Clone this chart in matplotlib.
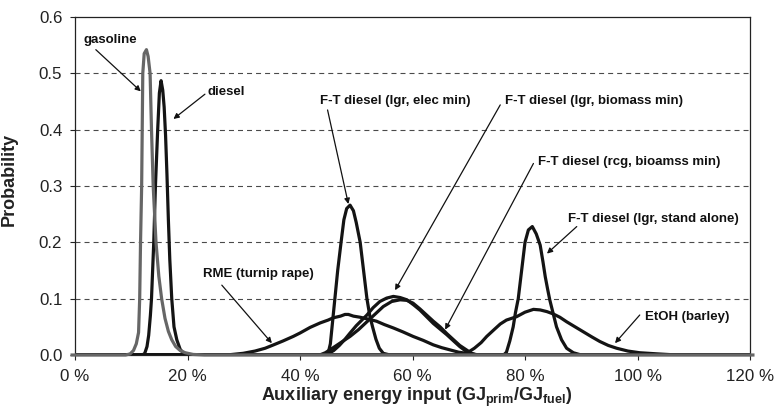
import matplotlib
matplotlib.use("Agg")
import matplotlib.pyplot as plt

plt.rcParams["font.family"] = ["Liberation Sans", "DejaVu Sans"]
plt.rcParams["mathtext.fontset"] = "custom"
plt.rcParams["mathtext.rm"] = "Liberation Sans:bold"
plt.rcParams["mathtext.bf"] = "Liberation Sans:bold"
plt.rcParams["lines.scale_dashes"] = False

# ---- distributions: auxiliary energy input (%) vs probability ----
gasoline_x = [-0.8, 9.0, 9.8, 10.4, 10.9, 11.3, 11.5, 11.65, 11.85, 11.95, 12.05, 12.3, 12.7,
              13.0, 13.35, 13.6, 13.9, 14.4, 14.9, 15.4, 16.0, 16.6, 17.2, 17.9, 18.7, 19.6,
              21.0, 23.0, 120.8]
gasoline_y = [0, 0, 0.002, 0.008, 0.02, 0.04, 0.10, 0.20, 0.30, 0.40, 0.50, 0.535, 0.542,
              0.53, 0.50, 0.40, 0.30, 0.20, 0.14, 0.10, 0.065, 0.042, 0.027, 0.015, 0.008,
              0.004, 0.001, 0, 0]

diesel_x = [0, 12.0, 12.4, 12.8, 13.1, 13.4, 13.6, 13.8, 14.0, 14.3, 14.7, 15.0, 15.3,
            15.6, 15.85, 16.1, 16.35, 16.6, 16.85, 17.2, 17.6, 18.1, 18.7, 19.3, 20.5, 120]
diesel_y = [0, 0, 0.003, 0.015, 0.035, 0.07, 0.10, 0.15, 0.20, 0.30, 0.40, 0.465, 0.487,
            0.47, 0.44, 0.39, 0.32, 0.24, 0.17, 0.10, 0.05, 0.027, 0.01, 0.003, 0, 0]

ft_elec_x = [0, 44.5, 45.0, 45.4, 45.7, 46.2, 46.7, 47.3, 47.8, 48.3, 48.9, 49.5, 50.0,
             50.7, 51.3, 51.9, 52.4, 52.9, 53.5, 54.1, 54.8, 56.0, 120]
ft_elec_y = [0, 0, 0.003, 0.02, 0.05, 0.10, 0.15, 0.20, 0.24, 0.26, 0.266, 0.256, 0.235,
             0.20, 0.15, 0.10, 0.07, 0.05, 0.028, 0.012, 0.003, 0, 0]

ft_lgr_bio_x = [0, 44.5, 45.0, 46.0, 47.0, 48.0, 48.9, 50.0, 51.0, 51.9, 53.0, 54.2, 55.4,
                56.6, 57.8, 59.0, 60.2, 61.3, 62.5, 63.7, 64.9, 66.1, 67.3, 68.4, 69.6,
                70.8, 72.0, 120]
ft_lgr_bio_y = [0, 0, 0.002, 0.008, 0.017, 0.028, 0.039, 0.052, 0.062, 0.071, 0.084, 0.095,
                0.101, 0.104, 0.102, 0.098, 0.089, 0.080, 0.068, 0.056, 0.046, 0.036, 0.025,
                0.015, 0.006, 0.001, 0, 0]

ft_rcg_bio_x = [0, 43.5, 44.5, 45.9, 47.4, 48.9, 50.4, 51.9, 53.4, 54.8, 56.3, 57.8, 59.0,
                60.1, 61.3, 62.5, 63.7, 64.9, 66.1, 67.3, 68.4, 69.6, 70.5, 71.4, 120]
ft_rcg_bio_y = [0, 0, 0.004, 0.013, 0.023, 0.033, 0.045, 0.059, 0.073, 0.086, 0.095, 0.098,
                0.097, 0.092, 0.082, 0.071, 0.060, 0.050, 0.038, 0.027, 0.017, 0.009, 0.003,
                0, 0]

ft_stand_x = [0, 76.2, 76.7, 77.3, 77.9, 78.3, 78.8, 79.4, 80.0, 80.6, 81.3, 82.0, 82.7,
              83.2, 83.6, 84.0, 84.4, 85.0, 85.6, 86.5, 87.4, 88.6, 90.0, 120]
ft_stand_y = [0, 0, 0.005, 0.025, 0.05, 0.075, 0.10, 0.15, 0.20, 0.222, 0.228, 0.215, 0.195,
              0.165, 0.139, 0.118, 0.098, 0.074, 0.05, 0.027, 0.012, 0.004, 0, 0]

rme_x = [0, 27.0, 29.9, 32.0, 33.8, 35.3, 37.0, 38.8, 40.0, 41.8, 43.6, 45.0, 45.9, 47.2,
         48.0, 48.6, 49.5, 50.7, 52.0, 53.6, 55.0, 56.6, 58.3, 60.1, 61.9, 63.7, 65.2,
         66.7, 68.2, 69.6, 72.0, 120]
rme_y = [0, 0, 0.003, 0.007, 0.012, 0.018, 0.025, 0.033, 0.039, 0.049, 0.057, 0.062, 0.066,
         0.069, 0.072, 0.072, 0.069, 0.067, 0.064, 0.060, 0.054, 0.048, 0.041, 0.033, 0.026,
         0.018, 0.013, 0.009, 0.005, 0.003, 0, 0]

etoh_x = [0, 68.5, 69.6, 71.0, 72.2, 73.2, 74.5, 75.6, 76.7, 78.5, 80.0, 81.5, 82.7, 83.9,
          85.0, 86.2, 87.4, 88.9, 90.4, 91.9, 93.3, 94.8, 96.3, 98.3, 100.4, 103.5, 107.0,
          120]
etoh_y = [0, 0, 0.003, 0.012, 0.022, 0.033, 0.045, 0.055, 0.062, 0.068, 0.076, 0.081, 0.080,
          0.077, 0.073, 0.067, 0.059, 0.050, 0.041, 0.032, 0.024, 0.017, 0.012, 0.007, 0.004,
          0.002, 0, 0]

x_ticks = [0, 20, 40, 60, 80, 100, 120]
x_tick_labels = ["0 %", "20 %", "40 %", "60 %", "80 %", "100 %", "120 %"]
y_ticks = [0.0, 0.1, 0.2, 0.3, 0.4, 0.5, 0.6]
y_tick_labels = ["0.0", "0.1", "0.2", "0.3", "0.4", "0.5", "0.6"]

# label text, text centre, arrow start, arrow tip
labels = [
    ("gasoline", (6.2, 0.559), (3.7, 0.542), (11.7, 0.468)),
    ("diesel", (26.9, 0.466), (23.1, 0.463), (17.5, 0.419)),
    ("F-T diesel (lgr, elec min)", (57.0, 0.451), (44.9, 0.435), (48.6, 0.268)),
    ("F-T diesel (lgr, biomass min)", (92.2, 0.451), (75.6, 0.444), (56.9, 0.115)),
    ("F-T diesel (rcg, bioamss min)", (98.5, 0.343), (81.5, 0.340), (65.8, 0.045)),
    ("F-T diesel (lgr, stand alone)", (102.9, 0.242), (89.2, 0.228), (83.9, 0.180)),
    ("EtOH (barley)", (108.9, 0.068), (100.4, 0.071), (96.0, 0.021)),
    ("RME (turnip rape)", (32.6, 0.144), (26.1, 0.124), (35.0, 0.021)),
]

fig = plt.figure(figsize=(7.76, 4.12), dpi=100)
ax = fig.add_axes([75 / 776, 1 - 355 / 412, 675 / 776, 338 / 412])

ax.set_xlim(0, 120)
ax.set_ylim(0, 0.6)

for yv in y_ticks[1:-1]:
    ax.axhline(yv, color="#4a4a4a", lw=0.8, linestyle=(0, (3.6, 2.9)), zorder=1)

black = "#141414"
lw = 2.3
for xs, ys in [(rme_x, rme_y), (etoh_x, etoh_y), (ft_lgr_bio_x, ft_lgr_bio_y),
               (ft_rcg_bio_x, ft_rcg_bio_y), (ft_stand_x, ft_stand_y),
               (ft_elec_x, ft_elec_y), (diesel_x, diesel_y)]:
    ax.plot(xs, ys, color=black, lw=lw, solid_joinstyle="round",
            solid_capstyle="butt", zorder=3)
ax.plot(gasoline_x, gasoline_y, color="#666666", lw=lw, solid_joinstyle="round",
        solid_capstyle="butt", zorder=4, clip_on=False)

for text, tpos, start, tip in labels:
    ax.text(tpos[0], tpos[1], text, ha="center", va="center", fontsize=9.5,
            fontweight="bold", color="#111111", zorder=6)
    ax.annotate("", xy=tip, xytext=start,
                arrowprops=dict(arrowstyle="-|>", color="#111111", lw=0.9,
                                mutation_scale=8, shrinkA=0, shrinkB=0),
                zorder=6)

ax.set_xticks(x_ticks)
ax.set_xticklabels(x_tick_labels)
ax.set_yticks(y_ticks)
ax.set_yticklabels(y_tick_labels)
ax.tick_params(axis="x", direction="out", length=3.5, width=0.8, pad=6.5,
               labelsize=12.2, colors="#222222")
ax.tick_params(axis="y", direction="out", length=3.6, width=0.8, pad=5.5,
               labelsize=12.2, colors="#222222")

for sp in ax.spines.values():
    sp.set_linewidth(0.9)
    sp.set_color("#222222")

ax.set_ylabel("Probability", fontsize=13, fontweight="bold", color="#222222")
ax.yaxis.set_label_coords(-0.085, 0.52)
ax.set_xlabel(r"Auxiliary energy input (GJ$_{\mathbf{prim}}$/GJ$_{\mathbf{fuel}}$)",
              fontsize=13, fontweight="bold", color="#222222")
ax.xaxis.set_label_coords(0.506, -0.092)

fig.savefig("out.png", dpi=100)
